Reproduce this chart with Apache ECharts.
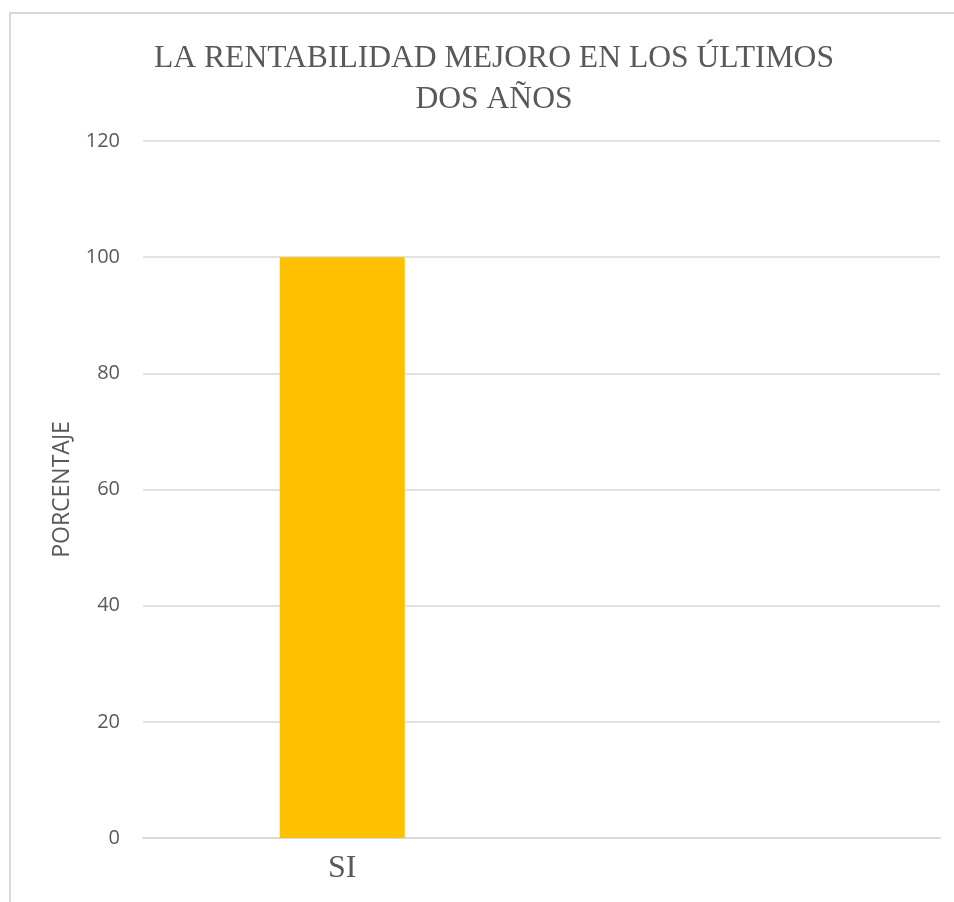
<!DOCTYPE html>
<html>
<head>
<meta charset="utf-8">
<script src="https://cdn.jsdelivr.net/npm/echarts@6/dist/echarts.min.js"></script>
<style>
html,body{margin:0;padding:0;background:#fff;}
#chart{width:954px;height:902px;}
</style>
</head>
<body>
<div id="chart"></div>
<script>
const titleText = 'LA RENTABILIDAD MEJORO EN LOS ÚLTIMOS\nDOS AÑOS';
const categories = ['SI', ''];
const values = [100, 0];
const yAxisName = 'PORCENTAJE';
const yMin = 0, yMax = 120, yInterval = 20;

const chart = echarts.init(document.getElementById('chart'));
chart.setOption({
  backgroundColor: '#ffffff',
  animation: false,
  graphic: [{
    type: 'rect',
    shape: { x: 10, y: 13, width: 1200, height: 1200 },
    style: { fill: 'none', stroke: '#d9d9d9', lineWidth: 2 },
    silent: true
  }],
  title: {
    text: titleText,
    left: 489,
    textAlign: 'center',
    top: 33,
    textStyle: {
      fontFamily: 'Liberation Serif',
      fontSize: 31.6,
      fontWeight: 'normal',
      color: '#595959',
      lineHeight: 41
    }
  },
  grid: { left: 143, right: 14, top: 141, bottom: 64 },
  xAxis: {
    type: 'category',
    data: categories,
    axisLine: { show: true, lineStyle: { color: '#d9d9d9', width: 2 } },
    axisTick: { show: false },
    axisLabel: {
      fontFamily: 'Liberation Serif',
      fontSize: 32,
      color: '#595959',
      margin: 15
    }
  },
  yAxis: {
    type: 'value',
    min: yMin,
    max: yMax,
    interval: yInterval,
    name: yAxisName,
    nameLocation: 'middle',
    nameGap: 69,
    nameTextStyle: { fontFamily: 'Open Sans', fontSize: 23, color: '#595959' },
    axisLine: { show: false },
    axisTick: { show: false },
    splitLine: { lineStyle: { color: '#d9d9d9', width: 1.5 } },
    axisLabel: {
      fontFamily: 'Open Sans',
      fontSize: 20,
      color: '#595959',
      margin: 23
    }
  },
  series: [{
    type: 'bar',
    data: values,
    barWidth: 125,
    itemStyle: { color: '#ffc000' }
  }]
});
</script>
</body>
</html>
